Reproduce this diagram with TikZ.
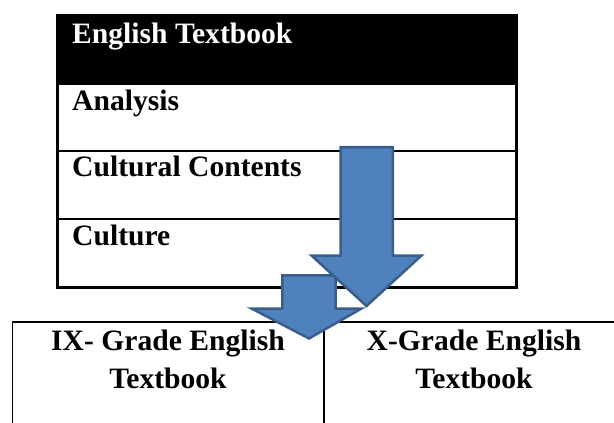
\documentclass[tikz,border=0pt]{standalone}
\usepackage{fontspec}
\setmainfont{Liberation Serif}
\usepackage{xcolor}
\usepackage{tikz}
\usetikzlibrary{calc,positioning}
\definecolor{arrowfill}{HTML}{4F81BD}
\definecolor{arrowline}{HTML}{3A5E8C}
\tikzstyle{blockarrow} = [fill=arrowfill, draw=arrowline, line width=2.5pt, line join=miter]
\tikzstyle{cell} = [inner sep=0pt, font=\bfseries\fontsize{29.6}{38}\selectfont]
\begin{document}
\begin{tikzpicture}[x=1pt,y=-1pt]
		\useasboundingbox (0,0) rectangle (614,423); % frame of the picture
		
		\fill[black] (56,14) rectangle (517.5,85); % black header
		\draw[line width=2.7pt] (57.4,15.4) rectangle (516.2,287.4); % upper table
		\draw[line width=2.2pt] (57.4,151) -- (516.2,151); % line below analysis
		\draw[line width=2.2pt] (57.4,219) -- (516.2,219); % line below contents
		
		\node (E) [cell, anchor=base west, text=white] at (72,43) {English Textbook}; % header text
		\node (A) [cell, anchor=base west] at (72,110) {Analysis}; % row 1
		\node (C) [cell, anchor=base west] at (72,176) {Cultural Contents}; % row 2
		\node (K) [cell, anchor=base west] at (72,245) {Culture}; % row 3
		
		\draw[line width=1.5pt] (12.7,423) -- (12.7,322) -- (614,322); % lower table
		\draw[line width=1.5pt] (324,322) -- (324,423); % middle line
		
		\node (G9) [cell, anchor=base, align=center] at (168,388) {IX- Grade English\\Textbook}; % left cell
		\node (G10) [cell, anchor=base, align=center] at (474,388) {X-Grade English\\Textbook}; % right cell
		
		\draw[blockarrow] (282.3,275.3) -- (335.7,275.3) -- (335.7,308.5) -- (361.5,308.5) -- (309,338.5) -- (251.5,308.5) -- (282.3,308.5) -- cycle; % small arrow
		\draw[blockarrow] (340.5,147) -- (392.8,147) -- (392.8,255.5) -- (421.5,255.5) -- (366.5,306) -- (311.5,255.5) -- (340.5,255.5) -- cycle; % big arrow
		
		\end{tikzpicture}
\end{document}
